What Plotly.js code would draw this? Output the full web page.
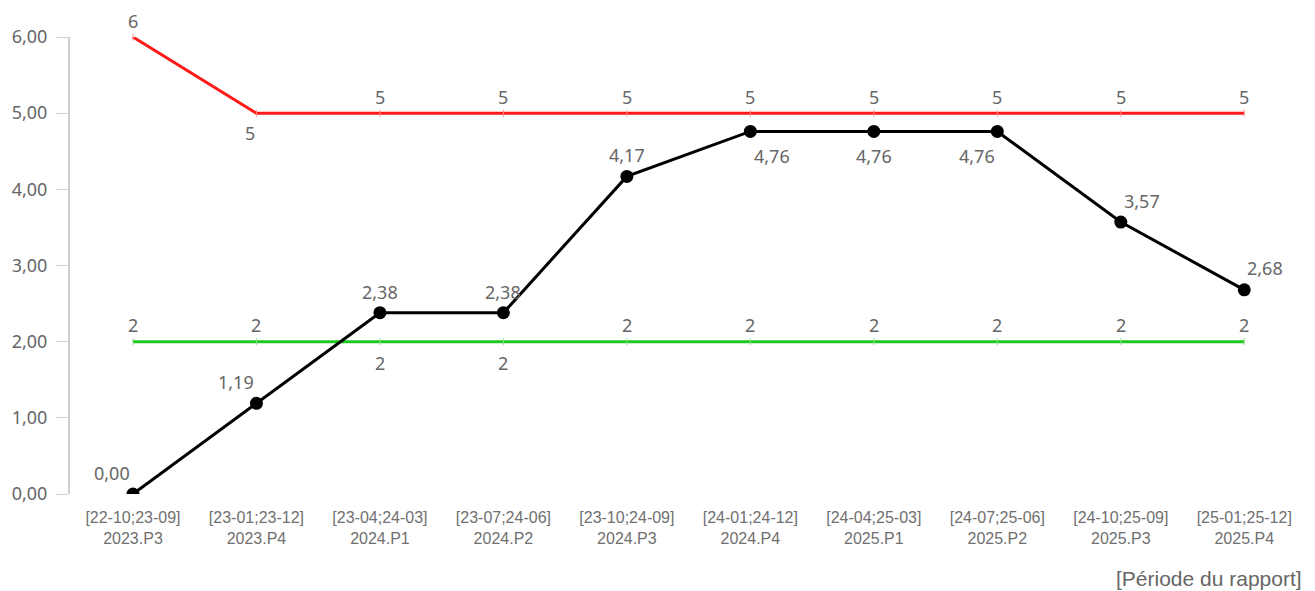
<!DOCTYPE html>
<html>
<head>
<meta charset="utf-8">
<script src="https://cdn.plot.ly/plotly-3.0.1.min.js"></script>
<style>html,body{margin:0;padding:0;background:#fff;}#chart{width:1315px;height:591px;}</style>
</head>
<body>
<div id="chart"></div>
<script>
const periods = ["[22-10;23-09]","[23-01;23-12]","[23-04;24-03]","[23-07;24-06]","[23-10;24-09]","[24-01;24-12]","[24-04;25-03]","[24-07;25-06]","[24-10;25-09]","[25-01;25-12]"];
const periodCodes = ["2023.P3","2023.P4","2024.P1","2024.P2","2024.P3","2024.P4","2025.P1","2025.P2","2025.P3","2025.P4"];
const upperLimit = [6,5,5,5,5,5,5,5,5,5];
const lowerLimit = [2,2,2,2,2,2,2,2,2,2];
const values = [0.00,1.19,2.38,2.38,4.17,4.76,4.76,4.76,3.57,2.68];
const yTicks = [0,1,2,3,4,5,6];

const xIdx = periods.map((_, i) => i);
const tickText = periods.map((p, i) => p + "<br>" + periodCodes[i]);

// label offsets (pixels) — styling only
const redOff = [[0,-16],[-6,20],[0,-16],[0,-16],[0,-16],[0,-16],[0,-16],[0,-16],[0,-16],[0,-16]];
const greenOff = [[0,-17],[0,-17],[0,21],[0,21],[0,-17],[0,-17],[0,-17],[0,-17],[0,-17],[0,-17]];
const blackOff = [[-21,-21],[-20,-21],[0,-21],[0,-21],[0,-21],[22,25],[0,25],[-20,25],[21,-21],[21,-22]];

const labelFont = {family: "Noto Sans, DejaVu Sans, sans-serif", size: 18, color: "#666"};
const fmt = (v, d) => v.toFixed(d).replace(".", ",");

function labels(ys, offs, dec) {
  return ys.map((v, i) => ({
    x: xIdx[i], y: v, xref: "x", yref: "y", text: fmt(v, dec), showarrow: false,
    xanchor: "center", yanchor: "middle", xshift: offs[i][0], yshift: -offs[i][1],
    font: labelFont
  }));
}

const traces = [
  {x: xIdx, y: upperLimit, mode: "lines+markers", line: {color: "#ff1a1a", width: 3},
   marker: {symbol: "line-ns", size: 5, color: "#ff8080", line: {color: "#ff9090", width: 1}},
   cliponaxis: false, hoverinfo: "skip"},
  {x: xIdx, y: lowerLimit, mode: "lines+markers", line: {color: "#1ec81e", width: 3},
   marker: {symbol: "line-ns", size: 5, color: "#80e080", line: {color: "#90e090", width: 1}},
   cliponaxis: false, hoverinfo: "skip"},
  {x: xIdx, y: values, mode: "lines+markers", line: {color: "#000", width: 3},
   marker: {size: 13, color: "#000"}, cliponaxis: true}
];

const layout = {
  width: 1315, height: 591,
  margin: {l: 70, r: 9, t: 37, b: 97},
  paper_bgcolor: "#fff", plot_bgcolor: "#fff",
  separators: ",.",
  showlegend: false,
  xaxis: {
    range: [-0.51, 9.5], tickvals: xIdx, ticktext: tickText,
    showgrid: false, zeroline: false, showline: false, ticks: "",
    ticklabelstandoff: 12,
    tickfont: {family: "Liberation Sans, Arial, sans-serif", size: 16, color: "#707070"}
  },
  yaxis: {
    range: [0, 6], tickvals: yTicks, tickformat: ".2f",
    showgrid: false, zeroline: false, showline: true, linecolor: "#d0d0d0", linewidth: 2,
    ticks: "outside", ticklen: 12, tickcolor: "#d0d0d0", tickwidth: 1,
    ticklabelstandoff: 5,
    tickfont: {family: "Noto Sans, DejaVu Sans, sans-serif", size: 18, color: "#666"}
  },
  annotations: [
    ...labels(upperLimit, redOff, 0),
    ...labels(lowerLimit, greenOff, 0),
    ...labels(values, blackOff, 2),
    {
      text: "[Période du rapport]", xref: "paper", yref: "paper", x: 1, y: 0,
      xanchor: "right", yanchor: "middle", yshift: -84, xshift: -2, showarrow: false,
      font: {family: "Liberation Sans, Arial, sans-serif", size: 21, color: "#666"}
    }
  ]
};

Plotly.newPlot("chart", traces, layout, {displayModeBar: false, staticPlot: true});
</script>
</body>
</html>
